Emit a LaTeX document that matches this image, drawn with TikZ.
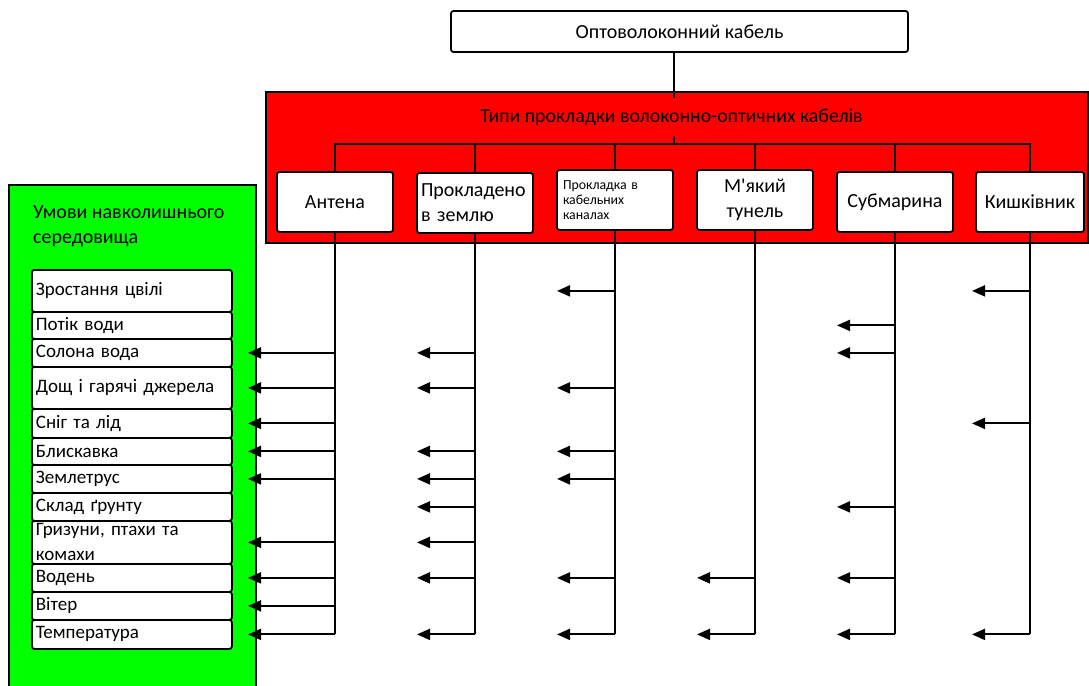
\documentclass[tikz,border=0pt]{standalone}
\usepackage{fontspec}
\setmainfont{Carlito}
\newfontfamily\plainfont{Carlito}
\usetikzlibrary{arrows.meta}
\definecolor{redbg}{HTML}{FF0000}
\definecolor{greenbg}{HTML}{00FF00}
\begin{document}
\begin{tikzpicture}[x=1pt,y=-1pt,
  wire/.style={draw=black,line width=2pt},
  arr/.style={wire,-{Triangle[length=13pt,width=11pt]}},
  box/.style={draw=black,line width=1.8pt,fill=white,rounded corners=2.5pt},
  kind/.style={box,minimum width=116pt,minimum height=60pt,inner sep=0pt,font=\fontsize{20}{25}\selectfont,align=center},
  rowbox/.style={box,anchor=north west,inner xsep=4pt,inner ysep=0pt,text width=192pt,align=left,font=\fontsize{19}{25}\selectfont},
  panel/.style={draw=black,line width=2pt,anchor=north west,inner sep=0pt}]
\clip (0,0) rectangle (1089,685);
\fill[white] (0,0) rectangle (1089,685);
% top box
\node[box,minimum width=457pt,minimum height=41pt,inner sep=0pt,font=\fontsize{20}{22}\selectfont] (top) at (679.5,31.5) {Оптоволоконний кабель};
% red panel
\node[panel,fill=redbg,minimum width=822pt,minimum height=151pt] (redbox) at (265,91) {};
\node[font=\fontsize{19.8}{22}\selectfont,inner sep=0pt] (rtitle) at (671.5,117) {Типи прокладки волоконно-оптичних кабелів};
\coordinate (j1) at (674,98);
\coordinate (j2) at (674,136);
\coordinate (bus) at (674,144);
\draw[wire] (top.south -| j1) -- (j1);
\draw[wire] (j2) -- (bus);
% kinds
\node[kind] (c1) at (335,202) {Антена};
\node[kind,text width=108pt,align=left] (c2) at (475,203) {Прокладено\\в землю};
\node[kind,text width=104pt,align=left,font=\fontsize{13.8}{15}\selectfont] (c3) at (615,200) {Прокладка в\\кабельних\\каналах};
\node[kind] (c4) at (755,200) {М{\plainfont'}який\\тунель};
\node[kind] (c5) at (895,202) {Субмарина};
\node[kind,minimum width=108pt] (c6) at (1030,202) {Кишківник};
\draw[wire] (c1.north) -- (c1.north |- bus) -- (c6.north |- bus) -- (c6.north);
\foreach \k in {2,3,4,5} {\draw[wire] (c\k.north) -- (c\k.north |- bus);}
% green panel
\node[panel,fill=greenbg,minimum width=247pt,minimum height=530pt] (gbox) at (8,184) {};
\node[anchor=west,align=left,inner sep=0pt,font=\fontsize{20}{25}\selectfont] (gtitle) at (33,226.5) {Умови навколишнього\\середовища};
% rows
\foreach \n/\t/\b/\txt in {
  1/269/311/{Зростання цвілі},
  2/311/338/{Потік води},
  3/338/366/{Солона вода},
  4/366/408/{Дощ і гарячі джерела},
  5/408/437/{Сніг та лід},
  6/437/464/{Блискавка},
  7/464/492/{Землетрус},
  8/492/520/{Склад ґрунту},
  9/520/563/{Гризуни, птахи та\\комахи},
  10/563/591/{Водень},
  11/591/619/{Вітер},
  12/619/648/{Температура}} {
  \node[rowbox,minimum height={\b pt-\t pt}] (r\n) at (31,\t) {\txt};
}
% vertical lines
\foreach \k in {1,...,6} {\draw[wire] (c\k.south) -- (c\k.south |- r12);}
% arrows from antenna into the green panel
\foreach \i in {3,4,5,6,7,9,10,11,12} {
  \coordinate (g\i) at ([xshift=-9pt]gbox.east |- r\i);
  \draw[arr] (c1.south |- r\i) -- (g\i);
}
% other columns
\foreach \k/\list in {2/{3,4,6,7,8,9,10,12},3/{1,4,6,7,10,12},4/{10,12},5/{2,3,8,10,12},6/{1,5,12}} {
  \foreach \i in \list {
    \path (c\k.south |- r\i) ++(-58,0) coordinate (e\k-\i);
    \draw[arr] (c\k.south |- r\i) -- (e\k-\i);
  }
}
\end{tikzpicture}
\end{document}
